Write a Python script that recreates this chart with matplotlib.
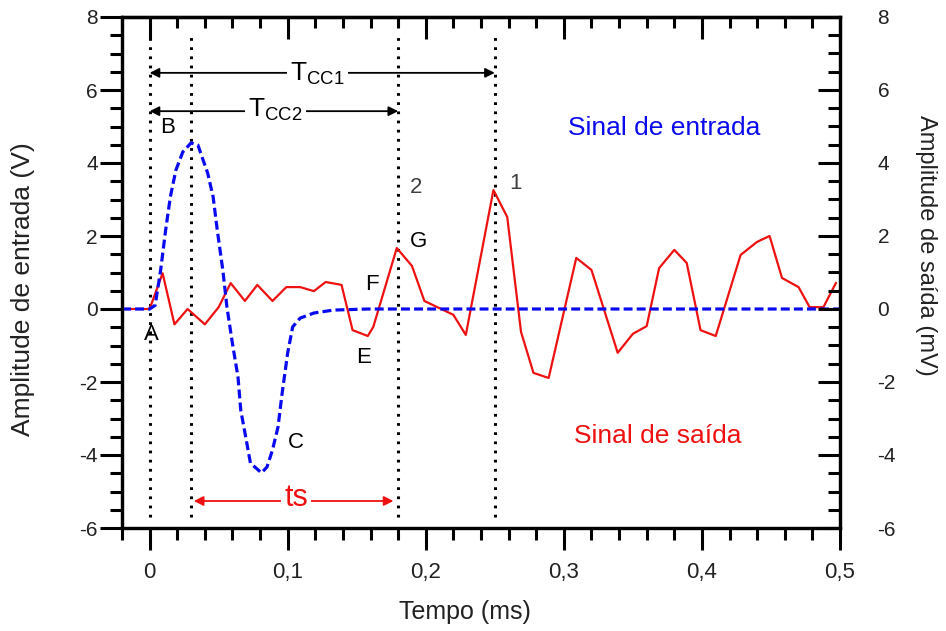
import matplotlib
matplotlib.use("Agg")
import matplotlib.pyplot as plt
from matplotlib.ticker import MultipleLocator, FuncFormatter

plt.rcParams["font.family"] = ["Liberation Sans", "DejaVu Sans"]
plt.rcParams["axes.unicode_minus"] = False

# input pulse (V), dashed blue
t_in = [-0.02, 0.0, 0.004, 0.008, 0.0116, 0.015, 0.019, 0.024, 0.030, 0.035,
        0.038, 0.042, 0.046, 0.049, 0.053, 0.056, 0.060, 0.064, 0.066, 0.070,
        0.073, 0.081, 0.085, 0.089, 0.093, 0.096, 0.100, 0.1036, 0.109, 0.119,
        0.133, 0.158, 0.5]
v_in = [0, 0, 0.1, 1.07, 2.16, 3.07, 3.8, 4.3, 4.55, 4.49,
        4.16, 3.73, 3.07, 2.16, 1.07, 0.05, -0.95, -1.86, -2.77, -3.59,
        -4.22, -4.49, -4.33, -3.86, -3.23, -2.3, -1.2, -0.49, -0.25, -0.11,
        -0.03, 0.0, 0.0]

# received signal (mV), solid red
t_out = [-0.02, 0.0, 0.0094, 0.018, 0.0275, 0.040, 0.050, 0.0587, 0.069, 0.078,
         0.089, 0.099, 0.109, 0.119, 0.1275, 0.139, 0.147, 0.158, 0.162, 0.179,
         0.19, 0.199, 0.22, 0.229, 0.249, 0.259, 0.269, 0.278, 0.289, 0.309,
         0.32, 0.339, 0.35, 0.36, 0.369, 0.38, 0.389, 0.399, 0.41, 0.428,
         0.44, 0.449, 0.458, 0.47, 0.478, 0.488, 0.497]
v_out = [0, 0, 0.98, -0.42, 0.0, -0.42, 0.05, 0.71, 0.22, 0.66,
         0.22, 0.6, 0.6, 0.49, 0.74, 0.66, -0.58, -0.74, -0.49, 1.67,
         1.18, 0.22, -0.16, -0.71, 3.26, 2.52, -0.63, -1.75, -1.89, 1.4,
         1.07, -1.2, -0.68, -0.47, 1.12, 1.62, 1.26, -0.58, -0.74, 1.48,
         1.84, 2.0, 0.85, 0.6, 0.05, 0.05, 0.71]

# marker times (ms)
t_marks = [0.0, 0.03, 0.18, 0.25]

# point labels: text, t, amplitude, colour
point_labels = [
    ("A", 0.001, -0.7, "black"),
    ("B", 0.013, 4.96, "black"),
    ("C", 0.106, -3.67, "black"),
    ("E", 0.155, -1.34, "black"),
    ("F", 0.161, 0.66, "black"),
    ("G", 0.195, 1.84, "black"),
    ("2", 0.193, 3.34, "#404040"),
    ("1", 0.265, 3.45, "#404040"),
]

BLUE = "#0a0aee"
RED = "#ee1111"

fig = plt.figure(figsize=(9.46, 6.31), dpi=100)
ax = fig.add_axes([122 / 946, 1 - 528 / 631, 718 / 946, 511 / 631])
ax.set_xlim(-0.02, 0.5)
ax.set_ylim(-6, 8)

for t in t_marks:
    ax.plot([t, t], [-5.7, 7.6], color="black", lw=2.2,
            linestyle=(0, (0.9, 2.1)), zorder=1)

ax.plot(t_out, v_out, color=RED, lw=1.6, zorder=2)
ax.plot(t_in, v_in, color=BLUE, lw=2.3, linestyle=(0, (2.8, 1.3)), zorder=3)

# interval arrows
def interval(x0, x1, y, label, color, size, tx, ty):
    ax.annotate("", xy=(x1, y), xytext=(x0, y),
                arrowprops=dict(arrowstyle="<|-|>", color=color, lw=1.3,
                                shrinkA=0, shrinkB=0, mutation_scale=14),
                zorder=4)
    ax.text(tx, ty, label, color=color, fontsize=size, ha="center", va="center",
            bbox=dict(facecolor="white", edgecolor="none", pad=2.5), zorder=5)

interval(0.0, 0.25, 6.47, r"$\mathregular{T_{CC1}}$", "black", 19, 0.1216, 6.45)
interval(0.0, 0.18, 5.42, r"$\mathregular{T_{CC2}}$", "black", 19, 0.091, 5.45)
interval(0.032, 0.1766, -5.26, "ts", RED, 22, 0.106, -5.18)

for txt, x, y, c in point_labels:
    ax.text(x, y, txt, color=c, fontsize=16, ha="center", va="center")

ax.text(0.3726, 4.96, "Sinal de entrada", color=BLUE, fontsize=19,
        ha="center", va="center")
ax.text(0.368, -3.48, "Sinal de saída", color=RED, fontsize=19,
        ha="center", va="center")

# axes styling
for sp in ax.spines.values():
    sp.set_linewidth(2.3)

comma = FuncFormatter(lambda v, p: ("%g" % round(v, 3)).replace(".", ","))
ax.xaxis.set_major_locator(MultipleLocator(0.1))
ax.xaxis.set_minor_locator(MultipleLocator(0.02))
ax.xaxis.set_major_formatter(comma)
ax.yaxis.set_major_locator(MultipleLocator(2))
ax.yaxis.set_minor_locator(MultipleLocator(0.5))
ax.tick_params(which="both", direction="out", top=False, right=False, width=2.2)
ax.tick_params(which="major", length=15.5)
ax.tick_params(which="minor", length=8.5)
ax.tick_params(axis="x", which="major", labelsize=16, pad=9)
ax.tick_params(axis="y", which="major", labelsize=15, pad=2)

top = ax.secondary_xaxis("top")
top.xaxis.set_major_locator(MultipleLocator(0.1))
top.xaxis.set_minor_locator(MultipleLocator(0.02))
top.tick_params(which="both", direction="in", labeltop=False, width=2.2)
top.tick_params(which="major", length=15.5)
top.tick_params(which="minor", length=8)
top.spines["top"].set_linewidth(2.3)

ax2 = ax.twinx()
ax2.set_ylim(-6, 8)
ax2.yaxis.set_major_locator(MultipleLocator(2))
ax2.yaxis.set_minor_locator(MultipleLocator(0.5))
ax2.tick_params(which="both", direction="in", width=2.2)
ax2.tick_params(which="major", length=16, labelsize=15, pad=27)
ax2.tick_params(which="minor", length=8.5)
for sp in ax2.spines.values():
    sp.set_linewidth(2.3)

ax.set_xlabel("Tempo (ms)", fontsize=18, color="#222222")
ax.xaxis.label.set_va("center")
ax.xaxis.set_label_coords(0.478, -0.164)

ax.set_ylabel("Amplitude de entrada (V)", fontsize=19, color="#222222")
ax.yaxis.label.set_va("center")
ax.yaxis.set_label_coords(-0.138, 0.468)

ax2.set_ylabel("Amplitude de saída (mV)", fontsize=17, color="#222222",
               rotation=270)
ax2.yaxis.label.set_va("center")
ax2.yaxis.set_label_coords(1.12, 0.554)

for lab in ax.get_xticklabels() + ax.get_yticklabels() + ax2.get_yticklabels():
    lab.set_color("#222222")

fig.savefig("out.png", dpi=100)
